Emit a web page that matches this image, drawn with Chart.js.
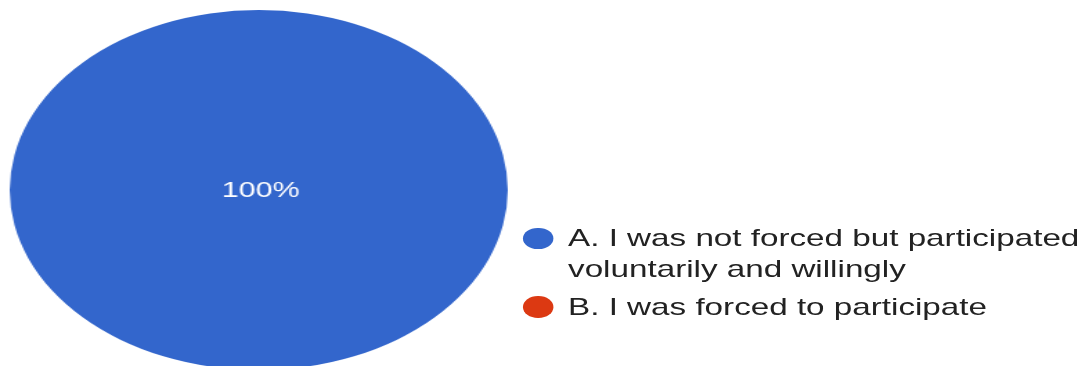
<!DOCTYPE html>
<html>
<head>
<meta charset="utf-8">
<script src="https://cdn.jsdelivr.net/npm/chart.js@4/dist/chart.umd.min.js"></script>
<style>
  html, body { margin: 0; padding: 0; background: #fff; overflow: hidden; }
  body { width: 1089px; height: 366px; position: relative; }
  /* the source picture is stretched sideways, so the whole page is too */
  #stage {
    position: absolute; left: 0; top: 0;
    width: 787px; height: 366px;
    transform: scaleX(1.3835); transform-origin: 0 0;
    font-family: Arial, "Liberation Sans", sans-serif;
  }
  #pie-box { position: absolute; left: 6.6px; top: 10px; width: 360px; height: 360px; }
  #legend { position: absolute; left: 378px; top: 222px; width: 400px; }
  .item { position: relative; padding-left: 32.6px; margin-bottom: 6.5px;
          font-size: 24px; line-height: 31px; color: #222; width: 376px; }
  .dot { position: absolute; left: 0; top: 5.5px; width: 21.5px; height: 21.5px; border-radius: 50%; }
</style>
</head>
<body>
<div id="stage">
  <div id="pie-box"><canvas id="pie" width="360" height="360"></canvas></div>
  <div id="legend"></div>
</div>
<script>
const labels = [
  'A. I was not forced but participated voluntarily and willingly',
  'B. I was forced to participate'
];
const shares = [100, 0];
const colors = ['#3366cc', '#dc3912'];

// percentage labels inside the slices
const sliceLabels = {
  id: 'sliceLabels',
  afterDatasetsDraw(chart) {
    const ctx = chart.ctx;
    const data = chart.data.datasets[0].data;
    const total = data.reduce((a, b) => a + b, 0);
    chart.getDatasetMeta(0).data.forEach((arc, i) => {
      if (!data[i]) return;
      const pct = Math.round(data[i] / total * 100);
      const full = arc.circumference >= Math.PI * 2 - 1e-6;
      const pos = full ? { x: arc.x, y: arc.y } : arc.tooltipPosition();
      ctx.save();
      ctx.fillStyle = '#ffffff';
      ctx.font = '22px Arial, "Liberation Sans", sans-serif';
      ctx.textAlign = 'center';
      ctx.textBaseline = 'middle';
      ctx.fillText(pct + '%', pos.x + 1.5, pos.y + 1);
      ctx.restore();
    });
  }
};

new Chart(document.getElementById('pie'), {
  type: 'pie',
  data: {
    labels: labels,
    datasets: [{ data: shares, backgroundColor: colors, borderWidth: 0 }]
  },
  options: {
    responsive: false,
    animation: false,
    plugins: { legend: { display: false }, tooltip: { enabled: false } }
  },
  plugins: [sliceLabels]
});

// legend built from the same arrays
const legendEl = document.getElementById('legend');
labels.forEach((text, i) => {
  const item = document.createElement('div');
  item.className = 'item';
  const dot = document.createElement('span');
  dot.className = 'dot';
  dot.style.background = colors[i];
  item.appendChild(dot);
  item.appendChild(document.createTextNode(text));
  legendEl.appendChild(item);
});
</script>
</body>
</html>
